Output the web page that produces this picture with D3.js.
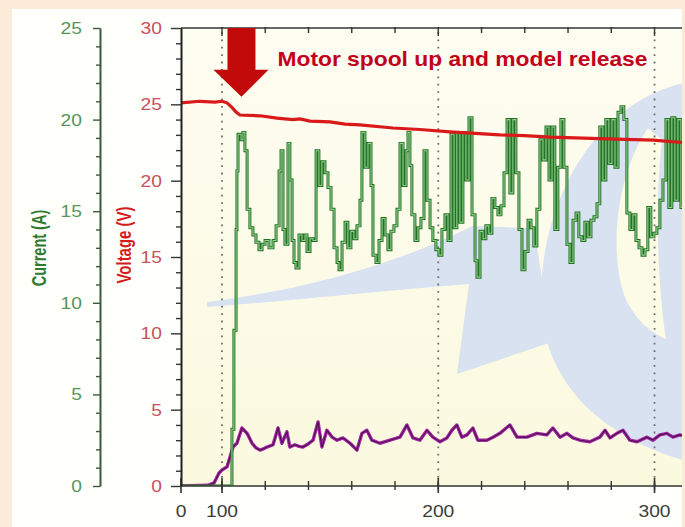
<!DOCTYPE html>
<html>
<head>
<meta charset="utf-8">
<script src="https://cdn.jsdelivr.net/npm/d3@7"></script>
<style>
  html, body { margin: 0; padding: 0; background: #fdebd9; }
  svg { display: block; font-family: "Liberation Sans", Arial, sans-serif; }
</style>
</head>
<body>
<svg id="chart" width="685" height="527"></svg>
<script>
// tick values
const timeTicks = [0, 100, 200, 300];
const voltageTicks = [0, 5, 10, 15, 20, 25, 30];
const currentTicks = [0, 5, 10, 15, 20, 25];

// [time, volts] - battery voltage (red)
const voltage = [
  [0, 25.1], [46, 25.2], [83, 25.15], [100, 25.2], [102.3, 25.1], [104.6, 24.8], [106.5, 24.5],
  [108.3, 24.3], [117.6, 24.25], [125.4, 24.1], [132.8, 24.0], [136, 24.05], [140.7, 23.9],
  [149.9, 23.85], [156.9, 23.7], [163.8, 23.65], [179.1, 23.45], [191.5, 23.35], [205.4, 23.2],
  [217.0, 23.1], [228.5, 23.0], [240.1, 22.95], [251.6, 22.85], [263.2, 22.8], [274.7, 22.75],
  [286.3, 22.7], [299.3, 22.65], [312.7, 22.5]
];

// [time, amps] - motor current (green)
const current = [
  [0, 0], [103.7, 0], [104.6, 3.1], [105.5, 8.5], [106.5, 14.0], [106.9, 17.2], [107.4, 19.2],
  [108.8, 18.9], [109.7, 19.3], [110.6, 18.3], [111.6, 15.1], [112.9, 14.1], [114.3, 13.7],
  [115.7, 13.3], [117.1, 12.9], [118.5, 13.2], [119.9, 13.4], [121.7, 13.0], [123.6, 13.4],
  [125.0, 14.2], [126.4, 17.2], [127.3, 18.3], [128.2, 14.0], [129.1, 13.2], [130.5, 18.7],
  [131.4, 16.7], [132.4, 13.4], [133.3, 12.2], [134.2, 11.9], [135.6, 13.7], [137.0, 13.4],
  [138.4, 13.7], [139.3, 12.8], [140.7, 13.5], [142.1, 13.4], [143.5, 18.3], [144.8, 16.4],
  [146.2, 17.7], [147.6, 17.1], [149.0, 16.3], [150.4, 15.1], [151.8, 13.0], [153.2, 12.2],
  [154.1, 11.8], [155.5, 13.3], [156.9, 14.4], [158.2, 13.0], [159.6, 13.9], [161.0, 13.5],
  [162.4, 14.2], [163.8, 15.6], [164.7, 19.3], [166.1, 17.4], [167.5, 18.7], [168.9, 16.4],
  [169.8, 12.6], [171.2, 12.2], [172.6, 13.4], [174.0, 14.6], [175.4, 13.7], [176.7, 12.9],
  [178.1, 13.9], [179.5, 14.2], [180.9, 15.1], [182.3, 18.7], [183.7, 16.4], [185.1, 18.3],
  [186.0, 19.3], [186.9, 17.5], [187.8, 14.8], [189.2, 13.4], [190.6, 14.1], [192.0, 14.6],
  [193.4, 18.3], [194.8, 15.6], [196.2, 14.1], [197.5, 13.4], [198.9, 12.9], [200.3, 12.6],
  [201.7, 14.0], [203.1, 14.8], [204.5, 13.4], [205.9, 19.2], [207.3, 14.1], [208.6, 19.3],
  [210.0, 14.4], [211.4, 19.3], [212.8, 16.7], [214.2, 20.1], [215.6, 14.8], [217.0, 12.3],
  [217.9, 11.4], [219.3, 13.9], [220.7, 13.5], [222.0, 14.2], [223.4, 13.8], [224.8, 15.7],
  [226.2, 15.2], [227.6, 14.8], [229.0, 15.3], [230.4, 17.1], [231.8, 20.0], [233.1, 16.0],
  [234.5, 20.0], [235.9, 17.1], [237.3, 14.0], [238.7, 11.8], [240.1, 12.8], [241.5, 14.5],
  [242.9, 14.1], [244.2, 13.1], [245.6, 15.1], [247.0, 18.9], [248.4, 17.8], [249.8, 19.6],
  [251.2, 16.7], [252.6, 19.6], [253.9, 14.0], [255.3, 17.4], [256.7, 20.0], [258.1, 17.4],
  [259.5, 13.2], [260.9, 12.2], [262.3, 14.5], [263.7, 14.9], [265.0, 13.6], [266.4, 13.4],
  [267.8, 14.4], [269.2, 13.6], [270.6, 14.5], [272.0, 14.7], [273.4, 15.4], [274.7, 19.6],
  [276.1, 16.7], [277.5, 20.0], [278.9, 17.6], [280.3, 20.0], [281.7, 17.4], [283.1, 20.4],
  [284.5, 20.7], [285.8, 20.0], [287.2, 14.9], [288.6, 14.0], [290.0, 14.8], [291.4, 13.4],
  [292.8, 13.0], [294.2, 12.6], [295.6, 12.9], [296.9, 15.2], [298.3, 13.6], [299.7, 13.8],
  [301.1, 14.1], [302.5, 15.6], [303.9, 16.7], [305.3, 20.0], [306.6, 15.2], [308.0, 20.1],
  [309.4, 15.6], [310.8, 20.0], [312.2, 15.2], [312.7, 15.2]
];

// [time, value] - third trace (purple), read on the voltage scale
const purple = [
  [0, 0], [65.9, 0.05], [80.5, 0.2], [92.7, 0.85], [100, 1.05], [102.3, 1.25], [103.7, 1.9],
  [105.1, 2.55], [106.9, 2.8], [109.2, 3.8], [111.6, 3.45], [113.9, 2.8], [115.7, 2.5],
  [117.6, 2.35], [119.4, 2.45], [120.8, 2.55], [123.6, 2.7], [125.9, 3.8], [127.7, 2.8],
  [130.0, 3.55], [131.4, 2.55], [133.7, 2.7], [135.6, 2.6], [137.4, 2.55], [139.8, 2.75],
  [142.1, 3.0], [144.4, 4.2], [146.2, 2.55], [148.5, 3.65], [150.9, 3.2], [153.2, 3.0],
  [155.9, 3.15], [159.2, 2.8], [162.4, 2.35], [164.7, 3.45], [167.0, 3.65], [169.3, 3.0],
  [173.0, 2.8], [177.7, 3.0], [182.3, 3.2], [185.5, 4.0], [188.3, 3.15], [191.5, 3.0],
  [194.8, 3.65], [197.5, 3.2], [200.8, 2.9], [204.0, 3.15], [206.3, 3.65], [208.6, 4.0],
  [210.9, 3.2], [213.3, 3.35], [216.0, 3.8], [218.3, 3.0], [222.5, 3.0], [225.3, 3.2],
  [228.5, 3.45], [233.1, 4.0], [236.4, 3.2], [241.0, 3.2], [245.6, 3.45], [250.2, 3.35],
  [253.0, 3.8], [256.3, 3.2], [259.5, 3.45], [262.3, 3.15], [265.5, 3.0], [270.1, 2.9],
  [274.7, 3.2], [277.1, 3.65], [279.4, 3.15], [282.6, 3.45], [285.4, 3.65], [288.6, 3.0],
  [291.9, 2.9], [296.5, 3.2], [299.3, 3.0], [302.5, 3.35], [305.7, 3.45], [308.5, 3.2],
  [311.7, 3.35], [312.7, 3.3]
];

const annotation = 'Motor spool up and model release';
const releaseTime = 109;

const plotL = 181, plotR = 682, plotT = 28, plotB = 486;
const stretch = 1.13; // the source picture is a little wider than tall

const svg = d3.select('#chart');

// first 100 s are squeezed on the original axis
const x = d3.scaleLinear().domain([0, 100, 312.7]).range([plotL, 222, plotR]);
const yV = d3.scaleLinear().domain([0, 30]).range([plotB, plotT]);
const yA = d3.scaleLinear().domain([0, 25]).range([plotB, plotT]);

// panel
svg.append('rect').attr('x', 12).attr('y', 9).attr('width', 670).attr('height', 518).attr('fill', '#fffffb');

const defs = svg.append('defs');
const grad = defs.append('linearGradient').attr('id', 'bg').attr('x1', 0).attr('y1', 0).attr('x2', 0).attr('y2', 1);
grad.append('stop').attr('offset', '0%').attr('stop-color', '#fefdf2');
grad.append('stop').attr('offset', '100%').attr('stop-color', '#fbf9de');
defs.append('clipPath').attr('id', 'plotclip')
  .append('rect').attr('x', plotL).attr('y', plotT).attr('width', plotR - plotL).attr('height', plotB - plotT);

svg.append('rect').attr('x', plotL).attr('y', plotT).attr('width', plotR - plotL).attr('height', plotB - plotT)
  .attr('fill', 'url(#bg)');

// faint logo watermark behind the traces
const wm = svg.append('g').attr('clip-path', 'url(#plotclip)').attr('fill', '#d8e2f1');
wm.append('path').attr('d', 'M207,302 C290,292 390,268 472,226 L534,228 L552,342 L457,374 L469,284 C380,291 290,301 207,307 Z');
wm.append('path').attr('d', 'M690,82 C610,95 545,180 541,290 C538,380 600,438 690,462 Z');
wm.append('path').attr('fill', '#fcfbe6')
  .attr('d', 'M648,128 C616,175 608,255 626,300 C638,322 650,332 666,339 C657,280 655,200 662,140 Z');

// dotted verticals
svg.append('g').selectAll('line').data(timeTicks.slice(1)).join('line')
  .attr('x1', d => x(d)).attr('x2', d => x(d))
  .attr('y1', plotT + 4).attr('y2', plotB)
  .attr('stroke', '#6f6f6f').attr('stroke-width', 1.8)
  .attr('stroke-dasharray', '1.8,5.6');

// traces
const plot = svg.append('g').attr('clip-path', 'url(#plotclip)');
const lineV = d3.line().x(d => x(d[0])).y(d => yV(d[1]));
const lineA = d3.line().x(d => x(d[0])).y(d => yA(d[1])).curve(d3.curveStepAfter);

plot.append('path').attr('d', lineV(purple)).attr('fill', 'none')
  .attr('stroke', '#a52aa5').attr('stroke-width', 3.4).attr('stroke-linejoin', 'round');
plot.append('path').attr('d', lineV(purple)).attr('fill', 'none')
  .attr('stroke', '#4b0d4b').attr('stroke-width', 1.1);

plot.append('path').attr('d', lineA(current)).attr('fill', 'none')
  .attr('stroke', '#237023').attr('stroke-width', 3);
plot.append('path').attr('d', lineA(current)).attr('fill', 'none')
  .attr('stroke', '#8fd18f').attr('stroke-width', 1.1);

plot.append('path').attr('d', lineV(voltage)).attr('fill', 'none')
  .attr('stroke', '#da1a1a').attr('stroke-width', 3.2);

// x axis (bottom)
const xMinor = d3.range(100, 301, 20);
const gx = svg.append('g').attr('transform', `translate(0,${plotB})`);
gx.append('line').attr('x1', plotL).attr('x2', plotR).attr('stroke', '#333').attr('stroke-width', 1.6);
gx.selectAll('line.minor').data(xMinor).join('line').attr('class', 'minor')
  .attr('x1', d => x(d)).attr('x2', d => x(d)).attr('y1', -5).attr('y2', 4)
  .attr('stroke', '#333').attr('stroke-width', 1.4);
gx.selectAll('line.major').data(timeTicks).join('line').attr('class', 'major')
  .attr('x1', d => x(d)).attr('x2', d => x(d)).attr('y1', -8).attr('y2', 7)
  .attr('stroke', '#333').attr('stroke-width', 1.6);
gx.selectAll('text').data(timeTicks).join('text')
  .attr('x', d => x(d)).attr('y', 31)
  .attr('text-anchor', 'middle').attr('font-size', 17).attr('fill', '#3c3c3c')
  .text(d => d);

// top border
const gt = svg.append('g').attr('transform', `translate(0,${plotT})`);
gt.append('line').attr('x1', plotL).attr('x2', plotR).attr('stroke', '#333').attr('stroke-width', 1.6);
gt.selectAll('line.minor').data(xMinor).join('line').attr('class', 'minor')
  .attr('x1', d => x(d)).attr('x2', d => x(d)).attr('y1', -1).attr('y2', d => d % 100 === 0 ? 8 : 5)
  .attr('stroke', '#333').attr('stroke-width', 1.4);

// voltage axis
const gv = svg.append('g').attr('transform', `translate(${plotL},0)`);
gv.call(d3.axisLeft(yV).tickValues(d3.range(0, 31, 1)).tickSize(5).tickSizeOuter(0).tickFormat(''));
gv.call(g => g.selectAll('.tick').filter(d => d % 5 === 0).remove());
const gv2 = svg.append('g').attr('transform', `translate(${plotL},0)`)
  .call(d3.axisLeft(yV).tickValues(voltageTicks).tickSize(10).tickPadding(9).tickSizeOuter(0));
[gv, gv2].forEach(g => {
  g.select('.domain').attr('stroke', '#222').attr('stroke-width', 1.6);
  g.selectAll('.tick line').attr('stroke', '#333').attr('stroke-width', 1.4);
});
gv2.selectAll('.tick text').attr('font-size', 17).attr('fill', '#c9505e').attr('font-family', null);

// current axis
const ca = 100;
const gc = svg.append('g').attr('transform', `translate(${ca},0)`);
gc.call(d3.axisLeft(yA).tickValues(d3.range(0, 26, 1)).tickSize(4).tickSizeOuter(0).tickFormat(''));
gc.call(g => g.selectAll('.tick').filter(d => d % 5 === 0).remove());
const gc2 = svg.append('g').attr('transform', `translate(${ca},0)`)
  .call(d3.axisLeft(yA).tickValues(currentTicks).tickSize(7).tickPadding(11).tickSizeOuter(0));
[gc, gc2].forEach(g => {
  g.select('.domain').attr('stroke', '#3c5a3c').attr('stroke-width', 1.6);
  g.selectAll('.tick line').attr('stroke', '#3c5a3c').attr('stroke-width', 1.4);
});
gc2.selectAll('.tick text').attr('font-size', 17).attr('fill', '#55975a').attr('font-family', null);

// widen horizontal labels like the source
svg.selectAll('text').each(function () {
  const w = this.getComputedTextLength();
  this.setAttribute('textLength', (w * stretch).toFixed(1));
  this.setAttribute('lengthAdjust', 'spacingAndGlyphs');
});

// axis titles (rotated, so widen across the glyphs instead)
svg.append('text').attr('transform', 'translate(39,248) scale(1.35,1) rotate(-90)')
  .attr('text-anchor', 'middle').attr('dy', '0.35em').attr('font-size', 14.5).attr('font-weight', 'bold')
  .attr('fill', '#2f7a2f').text('Current (A)');
svg.append('text').attr('transform', 'translate(124,245) scale(1.35,1) rotate(-90)')
  .attr('text-anchor', 'middle').attr('dy', '0.35em').attr('font-size', 15).attr('font-weight', 'bold')
  .attr('fill', '#d41c1c').text('Voltage (V)');

// annotation arrow + text
const ax = x(releaseTime), tipY = yV(25.5);
const arrow = d3.path();
arrow.moveTo(ax - 14, plotT);
arrow.lineTo(ax + 14, plotT);
arrow.lineTo(ax + 14, tipY - 27);
arrow.lineTo(ax + 27, tipY - 27);
arrow.lineTo(ax, tipY);
arrow.lineTo(ax - 28, tipY - 27);
arrow.lineTo(ax - 14, tipY - 27);
arrow.closePath();
svg.append('path').attr('d', arrow.toString()).attr('fill', '#c20a0a');

svg.append('text').attr('x', ax + 36).attr('y', 66)
  .attr('font-size', 20.5).attr('font-weight', 'bold').attr('fill', '#c3001c')
  .attr('textLength', 370).attr('lengthAdjust', 'spacingAndGlyphs')
  .text(annotation);
</script>
</body>
</html>
